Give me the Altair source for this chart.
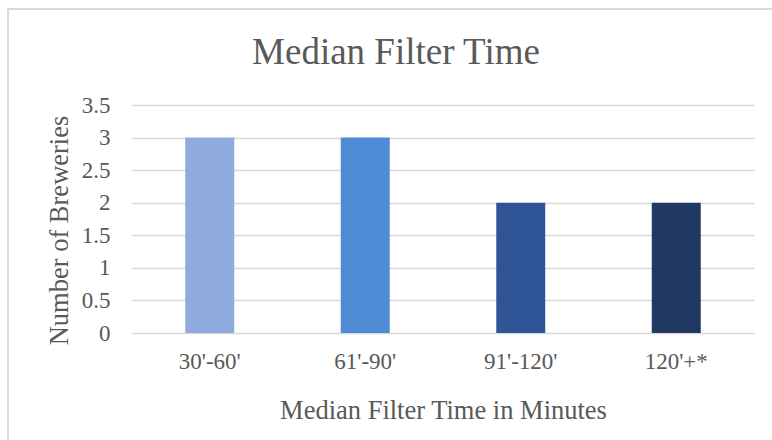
import altair as alt
import pandas as pd

# Chart data
categories = ["30'-60'", "61'-90'", "91'-120'", "120'+*"]
breweries = [3, 3, 2, 2]
bar_colors = ["#8FAADC", "#4F8CD6", "#2F5597", "#1F3864"]
y_ticks = [0, 0.5, 1, 1.5, 2, 2.5, 3, 3.5]

df = pd.DataFrame({"range": categories, "count": breweries})

FONT = "Liberation Serif"
TEXT = "#595959"
GRID = "#D9D9D9"

W, H = 622, 228
PAD = {"left": 132, "top": 105, "right": 18, "bottom": 107}

bars = alt.Chart(df).mark_bar().encode(
    x=alt.X(
        "range:N",
        sort=categories,
        scale=alt.Scale(paddingInner=0.685, paddingOuter=0.3425),
        axis=alt.Axis(
            title="Median Filter Time in Minutes",
            labelAngle=0,
            labelFont=FONT,
            labelFontSize=23,
            labelColor=TEXT,
            labelBaseline="alphabetic",
            labelPadding=35,
            ticks=False,
            domain=False,
            titleFont=FONT,
            titleFontSize=26.5,
            titleFontWeight="normal",
            titleColor=TEXT,
            titleBaseline="alphabetic",
            titleY=85,
        ),
    ),
    y=alt.Y(
        "count:Q",
        scale=alt.Scale(domain=[0, 3.5], nice=False),
        axis=alt.Axis(
            title="Number of Breweries",
            values=y_ticks,
            format=".1~f",
            labelFont=FONT,
            labelFontSize=23,
            labelColor=TEXT,
            labelPadding=22,
            labelBaseline="middle",
            ticks=False,
            domain=False,
            grid=True,
            gridColor=GRID,
            gridWidth=1.4,
            titleFont=FONT,
            titleFontSize=26.5,
            titleFontWeight="normal",
            titleColor=TEXT,
            titleAngle=-90,
            titleAlign="center",
            titleBaseline="alphabetic",
            titleX=-65,
            titleY=125,
        ),
    ),
    color=alt.Color(
        "range:N",
        sort=categories,
        scale=alt.Scale(domain=categories, range=bar_colors),
        legend=None,
    ),
)

# Light outline around the chart, open on the right and bottom edges
frame = alt.Chart(df).mark_rect(
    fill=None, stroke=GRID, strokeWidth=1.5, clip=False
).encode(
    x=alt.value(-124),
    x2=alt.value(760),
    y=alt.value(-96),
    y2=alt.value(420),
)

chart = alt.layer(frame, bars).properties(
    width=W,
    height=H,
    autosize=alt.AutoSizeParams(type="none"),
    padding=PAD,
    background="white",
    title=alt.TitleParams(
        "Median Filter Time",
        font=FONT,
        fontSize=37,
        fontWeight="normal",
        color=TEXT,
        anchor="middle",
        baseline="alphabetic",
        dx=-47,
        offset=-93,
    ),
).configure_view(stroke=None)

chart.save("out.html", embed_options={"renderer": "svg", "actions": False})
